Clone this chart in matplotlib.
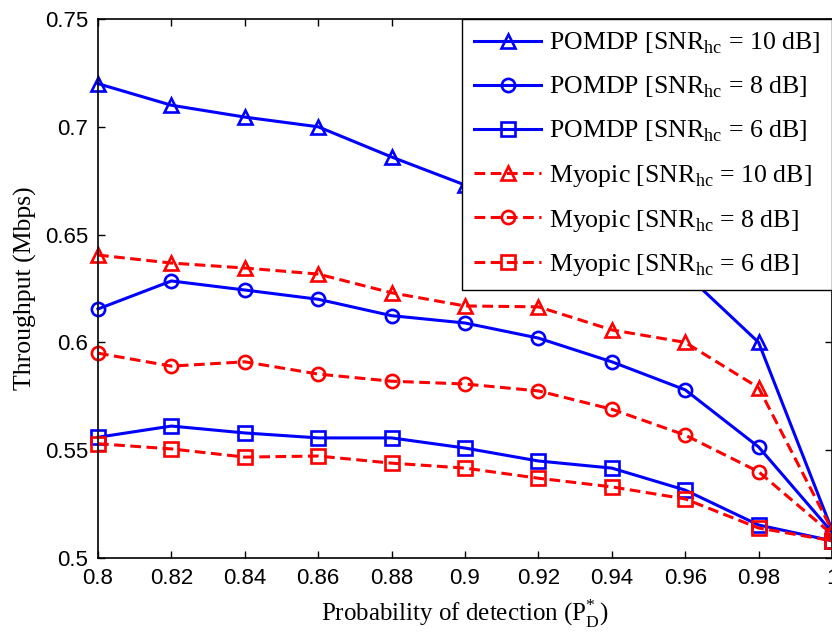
import numpy as np
import matplotlib
matplotlib.use('Agg')
import matplotlib.pyplot as plt

# Probability of detection values
pd_values = [0.8, 0.82, 0.84, 0.86, 0.88, 0.9, 0.92, 0.94, 0.96, 0.98, 1.0]

# Throughput (Mbps), POMDP
pomdp_10 = [0.720, 0.710, 0.7045, 0.700, 0.686, 0.673, 0.664, 0.651, 0.632, 0.600, 0.513]
pomdp_8 = [0.6155, 0.6285, 0.6243, 0.620, 0.6124, 0.609, 0.602, 0.591, 0.578, 0.5515, 0.512]
pomdp_6 = [0.556, 0.5612, 0.558, 0.5557, 0.5557, 0.551, 0.545, 0.5417, 0.5315, 0.5153, 0.508]

# Throughput (Mbps), Myopic
myopic_10 = [0.6405, 0.6368, 0.6345, 0.6317, 0.623, 0.6169, 0.6165, 0.6058, 0.600, 0.579, 0.513]
myopic_8 = [0.595, 0.589, 0.591, 0.5853, 0.582, 0.5807, 0.5775, 0.569, 0.557, 0.540, 0.511]
myopic_6 = [0.553, 0.5506, 0.5468, 0.5473, 0.544, 0.5417, 0.537, 0.533, 0.5274, 0.5139, 0.508]

labels = ['POMDP [SNR$_\\mathregular{hc}$ = 10 dB]',
          'POMDP [SNR$_\\mathregular{hc}$ = 8 dB]',
          'POMDP [SNR$_\\mathregular{hc}$ = 6 dB]',
          'Myopic [SNR$_\\mathregular{hc}$ = 10 dB]',
          'Myopic [SNR$_\\mathregular{hc}$ = 8 dB]',
          'Myopic [SNR$_\\mathregular{hc}$ = 6 dB]']

xtick_vals = [0.8, 0.82, 0.84, 0.86, 0.88, 0.9, 0.92, 0.94, 0.96, 0.98, 1.0]
xtick_labels = ['0.8', '0.82', '0.84', '0.86', '0.88', '0.9', '0.92', '0.94', '0.96', '0.98', '1']
ytick_vals = [0.5, 0.55, 0.6, 0.65, 0.7, 0.75]
ytick_labels = ['0.5', '0.55', '0.6', '0.65', '0.7', '0.75']

serif = 'Liberation Serif'
sans = 'Liberation Sans'

fig = plt.figure(figsize=(8.32, 6.37), dpi=100)
ax = fig.add_axes([98 / 832, 79 / 637, 734 / 832, 539 / 637])

lw = 2.2
ms = 10.5
mew = 1.9
dash = (0, (3.5, 1.8))

series = [
    (pomdp_10, 'blue', '-', '^'),
    (pomdp_8, 'blue', '-', 'o'),
    (pomdp_6, 'blue', '-', 's'),
    (myopic_10, 'red', dash, '^'),
    (myopic_8, 'red', dash, 'o'),
    (myopic_6, 'red', dash, 's'),
]
for (vals, col, ls, mk), lab in zip(series, labels):
    msize = ms if mk != 'o' else ms - 1
    ax.plot(pd_values, vals, color=col, linestyle=ls, linewidth=lw, marker=mk,
            markersize=msize, markerfacecolor='none', markeredgecolor=col,
            markeredgewidth=mew, label=lab, clip_on=False)

ax.set_xlim(0.8, 1.0)
ax.set_ylim(0.5, 0.75)
ax.set_xticks(xtick_vals)
ax.set_xticklabels(xtick_labels, family=sans, fontsize=16)
ax.set_yticks(ytick_vals)
ax.set_yticklabels(ytick_labels, family=sans, fontsize=16)
ax.tick_params(direction='in', length=5, width=1, top=True, right=True, pad=7)

for sp in ax.spines.values():
    sp.set_linewidth(1.2)

ax.set_xlabel('Probability of detection (P$_\\mathregular{D}^\\mathregular{*}$)',
              family=serif, fontsize=18, labelpad=6)
ax.set_ylabel('Throughput (Mbps)', family=serif, fontsize=18.5, labelpad=6)

leg = ax.legend(loc='upper right', borderaxespad=0, prop={'family': serif, 'size': 18.6},
                handlelength=2.6, handletextpad=0.3, labelspacing=0.72,
                borderpad=0.45, fancybox=False, framealpha=1, edgecolor='black')
leg.get_frame().set_linewidth(1.0)

fig.savefig('out.png', dpi=100)
